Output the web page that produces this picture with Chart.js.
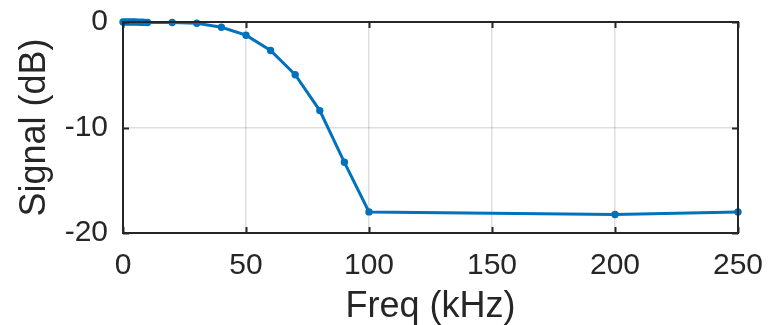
<!DOCTYPE html>
<html>
<head>
<meta charset="utf-8">
<script src="https://cdn.jsdelivr.net/npm/chart.js@4"></script>
<style>
  html, body { margin: 0; padding: 0; background: #fff; }
  #wrap { width: 769px; height: 325px; }
</style>
</head>
<body>
<div id="wrap"><canvas id="chart"></canvas></div>
<script>
// data
const freqKHz = [0, 1, 2, 3, 4, 5, 6, 7, 8, 9, 10, 20, 30, 40, 50, 60, 70, 80, 90, 100, 200, 250];
const signalDb = [0, 0, 0, 0, 0, 0, -0.01, -0.02, -0.03, -0.04, -0.05, -0.05, -0.12, -0.5, -1.25, -2.7, -5.0, -8.4, -13.3, -18.0, -18.25, -18.0];
const xTicks = [0, 50, 100, 150, 200, 250];
const yTicks = [-20, -10, 0];

const INK = "#262626";
const FONT = "'Liberation Sans', Arial, sans-serif";

// box round the plot + inward ticks (matlab style)
const boxPlugin = {
  id: "box",
  afterDatasetsDraw(chart) {
    const { ctx, chartArea: a, scales } = chart;
    ctx.save();
    ctx.strokeStyle = INK;
    ctx.lineWidth = 2;
    const tl = 6;
    ctx.beginPath();
    xTicks.forEach((v) => {
      const px = Math.round(scales.x.getPixelForValue(v)) + 0.5;
      ctx.moveTo(px, a.bottom); ctx.lineTo(px, a.bottom - tl);
      ctx.moveTo(px, a.top); ctx.lineTo(px, a.top + tl);
    });
    yTicks.forEach((v) => {
      const py = Math.round(scales.y.getPixelForValue(v)) + 0.5;
      ctx.moveTo(a.left, py); ctx.lineTo(a.left + tl, py);
      ctx.moveTo(a.right, py); ctx.lineTo(a.right - tl, py);
    });
    ctx.stroke();
    ctx.strokeRect(a.left, a.top, a.right - a.left, a.bottom - a.top);
    ctx.restore();
  },
};

new Chart(document.getElementById("chart"), {
  type: "line",
  data: {
    datasets: [
      {
        data: freqKHz.map((f, i) => ({ x: f, y: signalDb[i] })),
        borderColor: "#0072BD",
        backgroundColor: "#0072BD",
        borderWidth: 3,
        pointRadius: 2.2,
        pointHoverRadius: 2.2,
        tension: 0,
        clip: false,
      },
    ],
  },
  options: {
    responsive: true,
    maintainAspectRatio: false,
    animation: false,
    layout: { padding: { top: 22, right: 31, left: 0, bottom: 0 } },
    plugins: { legend: { display: false }, tooltip: { enabled: false } },
    scales: {
      x: {
        type: "linear",
        min: 0,
        max: 250,
        afterBuildTicks: (s) => { s.ticks = xTicks.map((v) => ({ value: v })); },
        afterFit: (s) => { s.height = 92; s.paddingLeft = 0; s.paddingRight = 0; },
        grid: { color: "rgba(0,0,0,0.13)", lineWidth: 1.5, drawTicks: false },
        border: { display: false },
        ticks: { color: INK, font: { family: FONT, size: 30 }, padding: 15, maxRotation: 0 },
        title: {
          display: true,
          text: "Freq (kHz)",
          color: INK,
          font: { family: FONT, size: 36, lineHeight: 1 },
          padding: { top: 0, bottom: 0 },
        },
      },
      y: {
        min: -20,
        max: 0,
        afterBuildTicks: (s) => { s.ticks = yTicks.map((v) => ({ value: v })); },
        afterFit: (s) => { s.width = 123; s.paddingTop = 0; s.paddingBottom = 0; },
        grid: { color: "rgba(0,0,0,0.13)", lineWidth: 1.5, drawTicks: false },
        border: { display: false },
        ticks: { color: INK, font: { family: FONT, size: 30 }, padding: 15 },
        title: {
          display: true,
          text: "Signal (dB)",
          color: INK,
          font: { family: FONT, size: 36, lineHeight: 1 },
          padding: { top: 17, bottom: 0 },
        },
      },
    },
  },
  plugins: [boxPlugin],
});
</script>
</body>
</html>
